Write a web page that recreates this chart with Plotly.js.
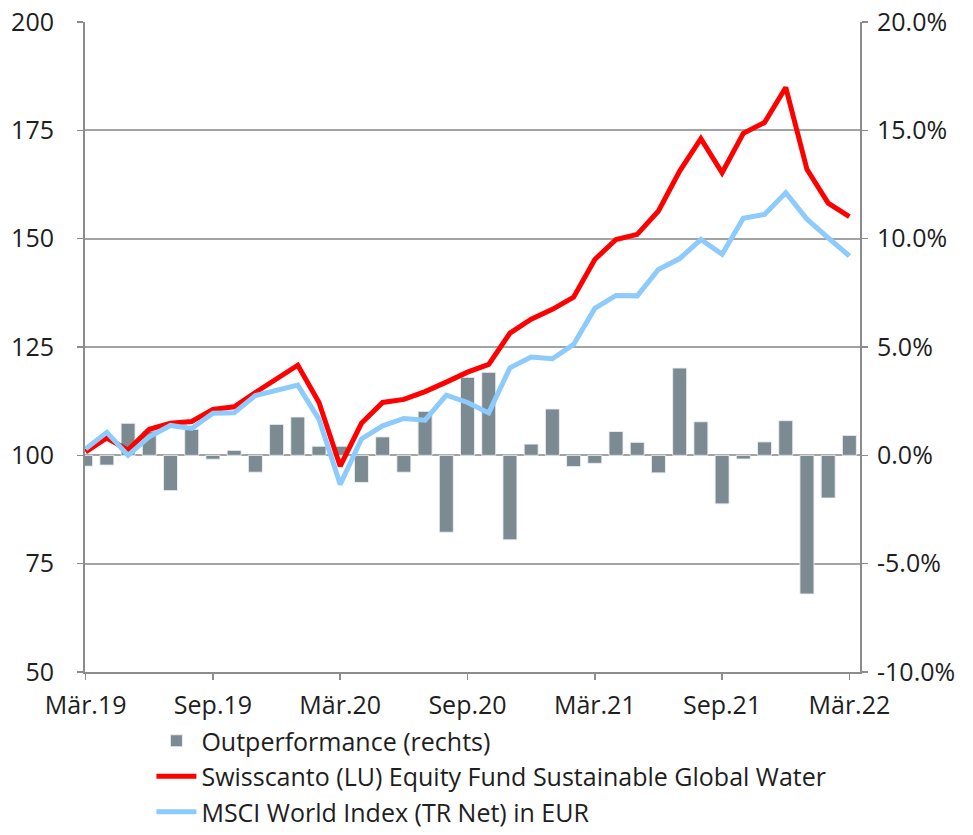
<!DOCTYPE html>
<html>
<head>
<meta charset="utf-8">
<script src="https://cdn.plot.ly/plotly-3.0.1.min.js"></script>
<style>html,body{margin:0;padding:0;background:#fff}#chart{width:973px;height:835px}</style>
</head>
<body>
<div id="chart"></div>
<script>
const months = ['Mär.19','Apr.19','Mai.19','Jun.19','Jul.19','Aug.19','Sep.19','Okt.19','Nov.19','Dez.19',
  'Jan.20','Feb.20','Mär.20','Apr.20','Mai.20','Jun.20','Jul.20','Aug.20','Sep.20','Okt.20','Nov.20','Dez.20',
  'Jan.21','Feb.21','Mär.21','Apr.21','Mai.21','Jun.21','Jul.21','Aug.21','Sep.21','Okt.21','Nov.21','Dez.21',
  'Jan.22','Feb.22','Mär.22'];
const outperformance = [-0.5,-0.45,1.48,1.12,-1.63,1.2,-0.18,0.23,-0.78,1.43,
  1.77,0.42,0.42,-1.25,0.85,-0.78,2.03,-3.55,3.6,3.83,-3.9,0.52,
  2.14,-0.52,-0.37,1.1,0.6,-0.81,4.03,1.55,-2.24,-0.17,0.62,1.6,
  -6.4,-1.97,0.92];
const swisscanto = [100.8,104.0,101.2,106.0,107.4,107.8,110.6,111.2,114.5,117.5,
  120.8,112.2,97.5,107.4,112.2,112.9,114.7,116.9,119.2,121.0,128.2,131.4,
  133.7,136.5,145.2,149.8,151.0,156.4,165.6,173.1,165.2,174.3,176.8,184.9,
  166.0,158.2,155.1];
const msci = [101.5,105.3,100.0,104.3,106.9,106.2,109.7,109.8,113.8,115.0,
  116.2,108.3,93.3,103.8,106.8,108.5,108.1,113.9,112.2,109.8,120.2,122.7,
  122.3,125.6,133.9,136.9,136.8,142.9,145.4,149.8,146.4,154.7,155.6,160.6,
  154.5,150.2,146.0];
const xTickLabels = ['Mär.19','Sep.19','Mär.20','Sep.20','Mär.21','Sep.21','Mär.22'];
const leftTicks = [50,75,100,125,150,175,200];
const rightTicks = [-10,-5,0,5,10,15,20];
const rightTickLabels = ['-10.0%','-5.0%','0.0%','5.0%','10.0%','15.0%','20.0%'];
const seriesNames = ['Outperformance (rechts)','Swisscanto (LU) Equity Fund Sustainable Global Water','MSCI World Index (TR Net) in EUR'];

const axisGray = '#8c8c8c';
const gridGray = '#a3a3a3';
const textColor = '#1e1e1e';

const traces = [
  {type:'bar', x: months, y: outperformance, name: seriesNames[0], yaxis:'y', legendgroup:'a',
   width: 0.66, marker:{color:'#7b8b91', line:{color:'rgba(235,240,242,0.9)', width:1}}},
  {type:'scatter', mode:'lines', x: months, y: swisscanto, name: seriesNames[1], yaxis:'y2', legendgroup:'b',
   line:{color:'#ff0000', width:5}},
  {type:'scatter', mode:'lines', x: months, y: msci, name: seriesNames[2], yaxis:'y2', legendgroup:'c',
   line:{color:'#8ccbfc', width:5}}
];

const layout = {
  width: 973, height: 835,
  margin: {l:85, r:113, t:22, b:163, autoexpand:false},
  paper_bgcolor:'#fff', plot_bgcolor:'#fff',
  font: {family:'"Open Sans", sans-serif', size:25, color:textColor},
  showlegend: true,
  legend: {x:0.0857, xanchor:'left', y:-0.2508, yanchor:'bottom', orientation:'v',
    font:{size:25, color:textColor}, tracegroupgap:0, bgcolor:'rgba(0,0,0,0)', itemwidth:40},
  bargap: 0.3,
  xaxis: {type:'category', categoryorder:'array', categoryarray: months,
    range:[-0.03, 36.5], tickmode:'array', tickvals: xTickLabels, ticktext: xTickLabels,
    showline:true, linecolor:axisGray, linewidth:2, ticks:'outside', ticklen:6, tickcolor:axisGray, tickwidth:1.5,
    showgrid:false, zeroline:false, ticklabelstandoff:4, fixedrange:true},
  yaxis: {side:'right', range:[-10,20], tickmode:'array', tickvals:rightTicks, ticktext:rightTickLabels,
    showline:true, linecolor:axisGray, linewidth:2, ticks:'outside', ticklen:6, tickcolor:axisGray, tickwidth:1.5,
    showgrid:true, gridcolor:gridGray, gridwidth:2, zeroline:false, ticklabelstandoff:4},
  yaxis2: {side:'left', overlaying:'y', range:[50,200], tickmode:'array', tickvals:leftTicks,
    showline:true, linecolor:axisGray, linewidth:2, ticks:'outside', ticklen:6, tickcolor:axisGray, tickwidth:1.5,
    showgrid:false, zeroline:false, ticklabelstandoff:18}
};

Plotly.newPlot('chart', traces, layout, {staticPlot:true, displayModeBar:false});
</script>
</body>
</html>
